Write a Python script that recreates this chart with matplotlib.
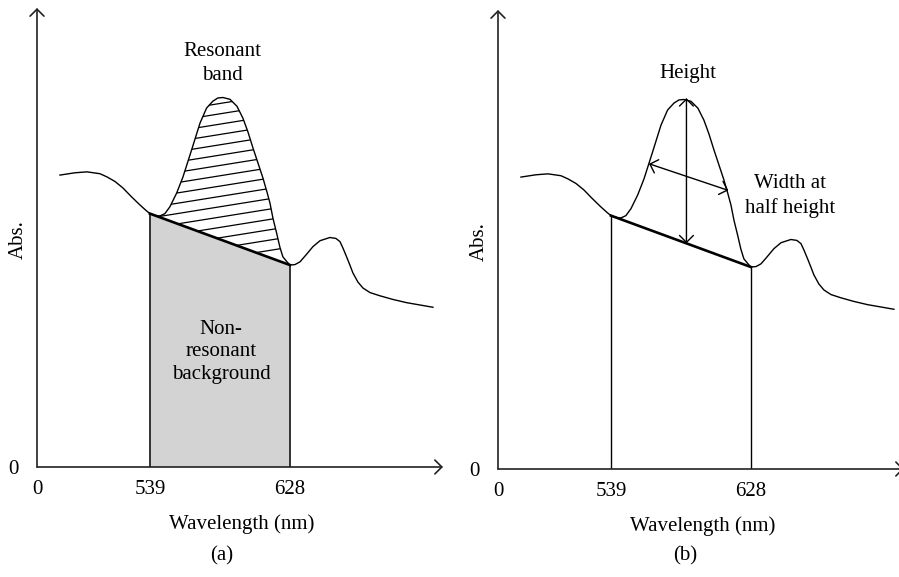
import numpy as np
import matplotlib
matplotlib.use("Agg")
import matplotlib.pyplot as plt
from matplotlib.patches import Polygon

plt.rcParams['font.family'] = ['Liberation Serif', 'DejaVu Serif']
plt.rcParams['font.size'] = 15

# Espectro esquemático
wavelength = [481.8, 491.3, 499.0, 507.2, 511.7, 516.8, 521.8, 526.9, 532.6, 536.5,
              539.0, 542.2, 545.4, 548.5, 551.7, 556.0, 560.0, 565.5, 570.8, 575.0,
              579.0, 582.2, 585.4, 589.9, 594.3, 598.1, 601.3, 604.5, 607.7, 610.8,
              613.4, 615.3, 617.2, 619.5, 621.6, 623.5, 626.1, 628.0, 631.2, 634.4,
              638.2, 642.6, 647.1, 653.4, 657.2, 659.8, 661.7, 664.0, 666.1, 668.0,
              671.2, 674.4, 678.9, 685.2, 693.5, 702.2, 710.6, 718.9]
absorb = [0.636, 0.641, 0.643, 0.639, 0.632, 0.622, 0.608, 0.590, 0.571, 0.559,
          0.552, 0.548, 0.547, 0.552, 0.567, 0.597, 0.632, 0.691, 0.749, 0.782,
          0.797, 0.804, 0.805, 0.801, 0.786, 0.760, 0.730, 0.695, 0.662, 0.630,
          0.599, 0.575, 0.542, 0.510, 0.479, 0.458, 0.447, 0.440, 0.441, 0.447,
          0.462, 0.480, 0.493, 0.500, 0.498, 0.491, 0.477, 0.458, 0.440, 0.423,
          0.403, 0.390, 0.380, 0.373, 0.365, 0.358, 0.353, 0.348]

x_ticks = [467.2, 539, 628]
x_labels = ["0", "539", "628"]
x_max = 725.3

wl = np.array(wavelength)
ab = np.array(absorb)
i1 = wavelength.index(539.0)
i2 = wavelength.index(628.0)
w1, a1 = wl[i1], ab[i1]
w2, a2 = wl[i2], ab[i2]

fig = plt.figure(figsize=(8.99, 5.77), dpi=100)
ax_a = fig.add_axes([37 / 899, 110 / 577, 406 / 899, 459 / 577])
ax_b = fig.add_axes([498 / 899, 108 / 577, 406 / 899, 459 / 577])

ink = "#222222"
for ax in (ax_a, ax_b):
    ax.set_xlim(x_ticks[0], x_max)
    ax.set_ylim(0, 1.0)
    for s in ax.spines.values():
        s.set_visible(False)
    ax.set_xticks(x_ticks)
    ax.set_xticklabels(x_labels)
    ax.set_yticks([0])
    ax.set_yticklabels(["0"])
    ax.tick_params(length=0)
    ax.tick_params(axis='x', pad=9)
    ax.tick_params(axis='y', pad=13)
    # ejes con flecha
    ax.annotate("", xy=(1, 0), xytext=(0, 0), xycoords='axes fraction',
                arrowprops=dict(arrowstyle='->,head_length=0.4,head_width=0.4',
                                lw=1.2, color=ink, mutation_scale=12.5,
                                shrinkA=0, shrinkB=0), annotation_clip=False)
    ax.annotate("", xy=(0, 1), xytext=(0, 0), xycoords='axes fraction',
                arrowprops=dict(arrowstyle='->,head_length=0.4,head_width=0.4',
                                lw=1.2, color=ink, mutation_scale=12.5,
                                shrinkA=0, shrinkB=0), annotation_clip=False)
    ax.plot(wl, ab, color="black", lw=1.0, clip_on=False)
    ax.set_xlabel("Wavelength (nm)")
    ax.xaxis.set_label_coords(0.505, -0.124)
    ax.xaxis.label.set_va('center')
    ax.text(-0.047, 0.495, "Abs.", rotation=90, ha='center', va='center',
            transform=ax.transAxes)

# (a) fondo no resonante + banda rayada
ax_a.fill([w1, w1, w2, w2], [0, a1, a2, 0], color="#d3d3d3", lw=0, zorder=1)
ax_a.plot([w1, w1], [0, a1], color="#333333", lw=1.4, zorder=2)
ax_a.plot([w2, w2], [0, a2], color="#333333", lw=1.4, zorder=2)
ax_a.plot([w1, w2], [a1, a2], color="black", lw=1.9, zorder=3)

band = np.column_stack([wl[i1:i2 + 1], ab[i1:i2 + 1]])
band_patch = Polygon(band, closed=True, facecolor='none', edgecolor='none')
ax_a.add_patch(band_patch)
slope = 0.00055
xs = np.array([w1 - 5, w2 + 5])
for c in np.arange(0.43, 0.83, 0.0225):
    ln, = ax_a.plot(xs, c + slope * (xs - w1), color="black", lw=0.9, zorder=2)
    ln.set_clip_path(band_patch)

ax_a.text(584.8, 0.880, "Resonant\nband", ha='center', va='center', linespacing=1.35)
ax_a.text(584.2, 0.251, "Non-\nresonant\nbackground", ha='center', va='center',
          linespacing=1.25)

# (b) altura y anchura a media altura
ax_b.plot([w1, w1], [0, a1], color="black", lw=1.0)
ax_b.plot([w2, w2], [0, a2], color="black", lw=1.0)
ax_b.plot([w1, w2], [a1, a2], color="black", lw=1.9)
x_h = 587.0
chord_h = a1 + (a2 - a1) * (x_h - w1) / (w2 - w1)
arr = dict(arrowstyle='<->,head_length=0.4,head_width=0.4', lw=1.0, color="black",
           mutation_scale=12.5, shrinkA=0, shrinkB=0)
ax_b.annotate("", xy=(x_h, 0.808), xytext=(x_h, chord_h), arrowprops=arr)
ax_b.annotate("", xy=(563.2, 0.665), xytext=(613.6, 0.607), arrowprops=arr)
ax_b.text(588.0, 0.861, "Height", ha='center', va='center')
ax_b.text(652.8, 0.595, "Width at\nhalf height", ha='center', va='center',
          linespacing=1.3)

fig.text(222 / 899, 1 - 556 / 577, "(a)", ha='center', va='center')
fig.text(685 / 899, 1 - 556 / 577, "(b)", ha='center', va='center')

fig.savefig("out.png", dpi=100)
